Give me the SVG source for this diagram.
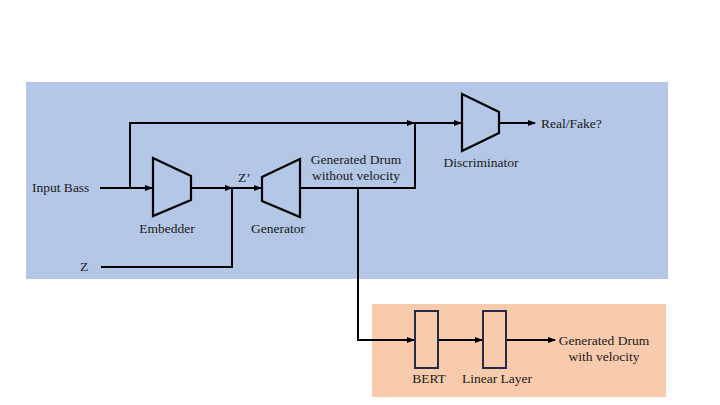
<svg xmlns="http://www.w3.org/2000/svg" width="720" height="405" viewBox="0 0 720 405">
<defs>
<style>
text{font-family:"Liberation Serif","Times New Roman",serif;font-size:13.5px;fill:#1a1a1a}
.ln{fill:none;stroke:#000;stroke-width:2}
.trap{fill:none;stroke:#000;stroke-width:2.2;stroke-linejoin:miter}
.box{fill:none;stroke:#262a44;stroke-width:2}
.c{text-anchor:middle}
</style>
<marker id="ah" markerWidth="8" markerHeight="6" refX="7" refY="3" orient="auto" markerUnits="userSpaceOnUse">
<path d="M0,0 L8,3 L0,6 z" fill="#000"/>
</marker>
</defs>
<rect width="720" height="405" fill="#fff"/>
<rect id="gan-panel" x="26" y="82" width="642" height="197" fill="#b4c7e7"/>
<rect id="bert-panel" x="372" y="304" width="294" height="93" fill="#f8cbad"/>

<g id="connectors">
<path class="ln" d="M100,188 H152" marker-end="url(#ah)"/>
<path class="ln" d="M130,188 V123 H414" marker-end="url(#ah)"/>
<path class="ln" d="M414,123 H461" marker-end="url(#ah)"/>
<path class="ln" d="M191,188 H232" marker-end="url(#ah)"/>
<path class="ln" d="M232,188 H261" marker-end="url(#ah)"/>
<path class="ln" d="M101,267 H232 V188"/>
<path class="ln" d="M300,188 H415 V123"/>
<path class="ln" d="M499,123 H535" marker-end="url(#ah)"/>
<path class="ln" d="M358,188 V340 H414" marker-end="url(#ah)"/>
<path class="ln" d="M438,340 H482" marker-end="url(#ah)"/>
<path class="ln" d="M506,340 H555" marker-end="url(#ah)"/>
</g>

<g id="input-bass"><text x="32" y="192">Input Bass</text></g>
<g id="z"><text x="80" y="271">Z</text></g>
<g id="z-prime"><text x="238" y="182">Z’</text></g>

<g id="embedder">
<polygon class="trap" points="153,158 191,176 191,200 153,216"/>
<text class="c" x="167" y="233">Embedder</text>
</g>
<g id="generator">
<polygon class="trap" points="262,177 300,159 300,217 262,201"/>
<text class="c" x="278" y="233">Generator</text>
</g>
<g id="generated-drum">
<text class="c" x="356" y="164">Generated Drum</text>
<text class="c" x="356" y="180">without velocity</text>
</g>
<g id="discriminator">
<polygon class="trap" points="462,94 499,112 499,133 462,151"/>
<text class="c" x="481" y="167">Discriminator</text>
</g>
<g id="real-fake"><text x="541" y="128">Real/Fake?</text></g>

<g id="bert">
<rect class="box" x="415" y="311" width="23" height="57"/>
<text class="c" x="429" y="383">BERT</text>
</g>
<g id="linear-layer">
<rect class="box" x="483" y="311" width="23" height="57"/>
<text class="c" x="497" y="383">Linear Layer</text>
</g>
<g id="output">
<text class="c" x="604" y="345">Generated Drum</text>
<text class="c" x="604" y="361">with velocity</text>
</g>
</svg>
